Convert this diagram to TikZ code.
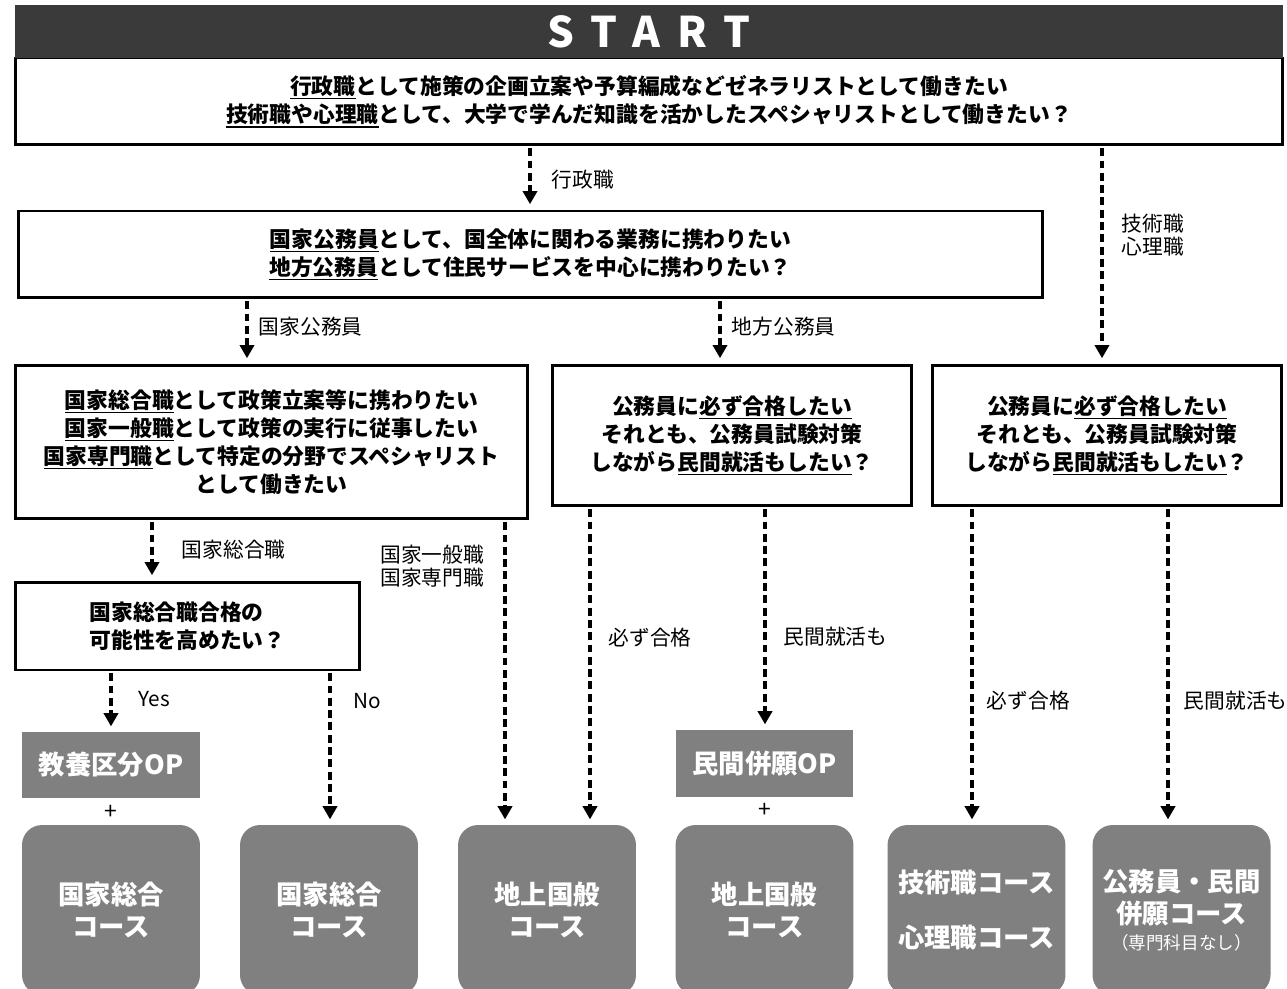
\documentclass[tikz,border=0pt]{standalone}
\usepackage{fontspec}
\setmainfont{Noto Sans CJK JP}
\usetikzlibrary{arrows.meta}
\definecolor{bardark}{HTML}{3A3A3A}
\definecolor{coursegray}{HTML}{808080}
\newcommand{\kw}[1]{\setbox0\hbox{#1}\rlap{\rule[-2.8pt]{\wd0}{0.9pt}}\box0}
\tikzset{
  qbox/.style={draw=black, line width=1.7pt, fill=white, align=center, inner sep=0pt,
    font=\bfseries\fontsize{12.4}{16}\selectfont},
  opbox/.style={fill=coursegray, text=white, inner sep=0pt,
    font=\bfseries\fontsize{15}{18}\selectfont},
  course/.style={fill=coursegray, text=white, rounded corners=0.4cm, align=center, inner sep=0pt,
    minimum width=3.56cm, minimum height=3.4cm, font=\bfseries\fontsize{15}{18}\selectfont},
  flow/.style={line width=2.1pt, dash pattern=on 4.5pt off 2.5pt,
    -{Triangle[width=8pt,length=7.5pt]}, shorten <=1pt, shorten >=3pt},
  lbl/.style={font=\fontsize{11.8}{13}\selectfont, inner sep=2pt, align=left},
}
\begin{document}
\begin{tikzpicture}[x=0.02cm, y=-0.02cm]
\useasboundingbox (0,0) rectangle (1287,989);
\clip (0,0) rectangle (1287,989);

\node[qbox, minimum width=25.36cm, minimum height=1.74cm] (q1) at (649,101.5)
  {\kw{行政職}として施策の企画立案や予算編成などゼネラリストとして働きたい\\
   \kw{技術職や心理職}として、大学で学んだ知識を活かしたスペシャリストとして働きたい？};
\node[fill=bardark, text=white, minimum width=25.36cm, minimum height=1.06cm, inner sep=0pt,
  font=\bfseries\fontsize{24}{24}\selectfont\addfontfeature{LetterSpace=40}] (start) at (649,31.5) {START};

\node[qbox, minimum width=20.5cm, minimum height=1.74cm] (q2) at (530.5,254.5)
  {\kw{国家公務員}として、国全体に関わる業務に携わりたい\\
   \kw{地方公務員}として住民サービスを中心に携わりたい？};

\node[qbox, minimum width=10.26cm, minimum height=3.08cm] (q3) at (271.5,442)
  {\kw{国家総合職}として政策立案等に携わりたい\\
   \kw{国家一般職}として政策の実行に従事したい\\
   \kw{国家専門職}として特定の分野でスペシャリスト\\
   として働きたい};
\node[qbox, minimum width=7.2cm, minimum height=2.82cm] (q4) at (732,435.5)
  {公務員に\kw{必ず合格したい}\\
   それとも、公務員試験対策\\
   しながら\kw{民間就活もしたい}？};
\node[qbox, minimum width=7.0cm, minimum height=2.82cm] (q5) at (1107,435.5)
  {公務員に\kw{必ず合格したい}\\
   それとも、公務員試験対策\\
   しながら\kw{民間就活もしたい}？};
\node[qbox, align=left, minimum width=6.9cm, minimum height=1.76cm] (q6) at (187.5,626)
  {国家総合職合格の\\
   可能性を高めたい？};

\node[opbox, minimum width=3.56cm, minimum height=1.32cm] (op1) at (111,765) {教養区分OP};
\node[opbox, minimum width=3.54cm, minimum height=1.34cm] (op2) at (764.5,763.5) {民間併願OP};
\node[font=\fontsize{13}{14}\selectfont] (plus1) at (111,812) {+};
\node[font=\fontsize{13}{14}\selectfont] (plus2) at (764.5,810) {+};

\node[course] (k1) at (111,910) {国家総合\\コース};
\node[course] (k2) at (329,910) {国家総合\\コース};
\node[course] (k3) at (547,910) {地上国般\\コース};
\node[course] (k4) at (764.5,910) {地上国般\\コース};
\node[course] (k5) at (976.5,910) {技術職コース\\[13pt]心理職コース};
\node[course] (k6) at (1181.5,910) {公務員・民間\\併願コース\\[-3pt]
  {\mdseries\fontsize{10}{11}\selectfont （専門科目なし）}};

% arrow columns
\coordinate (p1) at (530,0);
\coordinate (p2) at (1102,0);
\coordinate (p3) at (247,0);
\coordinate (p4) at (720,0);
\coordinate (p5) at (152,0);
\coordinate (p6) at (505,0);
\coordinate (p7) at (590,0);
\coordinate (p8) at (765,0);
\coordinate (p9) at (111,0);
\coordinate (p10) at (330,0);
\coordinate (p11) at (972,0);
\coordinate (p12) at (1168,0);

\draw[flow] (q1.south -| p1) to node[lbl, right, pos=0.53, xshift=9.4pt]{行政職} (q2.north -| p1);
\draw[flow] (q1.south -| p2) to node[lbl, right, pos=0.41, xshift=8.2pt]{技術職\\心理職} (q5.north -| p2);
\draw[flow] (q2.south -| p3) to node[lbl, right, pos=0.43, xshift=3.7pt]{国家公務員} (q3.north -| p3);
\draw[flow] (q2.south -| p4) to node[lbl, right, pos=0.43, xshift=3.7pt]{地方公務員} (q4.north -| p4);
\draw[flow] (q3.south -| p5) to node[lbl, right, pos=0.49, xshift=14pt]{国家総合職} (q6.north -| p5);
\draw[flow] (q3.south -| p6) to node[lbl, left, pos=0.15, xshift=-8.8pt]{国家一般職\\国家専門職} (k3.north -| p6);
\draw[flow] (q4.south -| p7) to node[lbl, right, pos=0.41, xshift=7.6pt]{必ず合格} (k3.north -| p7);
\draw[flow] (q4.south -| p8) to node[lbl, right, pos=0.58, xshift=7.6pt]{民間就活も} (op2.north -| p8);
\draw[flow] (q6.south -| p9) to node[lbl, right, pos=0.45, xshift=12.8pt]{Yes} (op1.north -| p9);
\draw[flow] (q6.south -| p10) to node[lbl, right, pos=0.19, xshift=10.5pt]{No} (k2.north -| p10);
\draw[flow] (q5.south -| p11) to node[lbl, right, pos=0.61, xshift=5.4pt]{必ず合格} (k5.north -| p11);
\draw[flow] (q5.south -| p12) to node[lbl, right, pos=0.61, xshift=6pt]{民間就活も} (k6.north -| p12);
\end{tikzpicture}
\end{document}
